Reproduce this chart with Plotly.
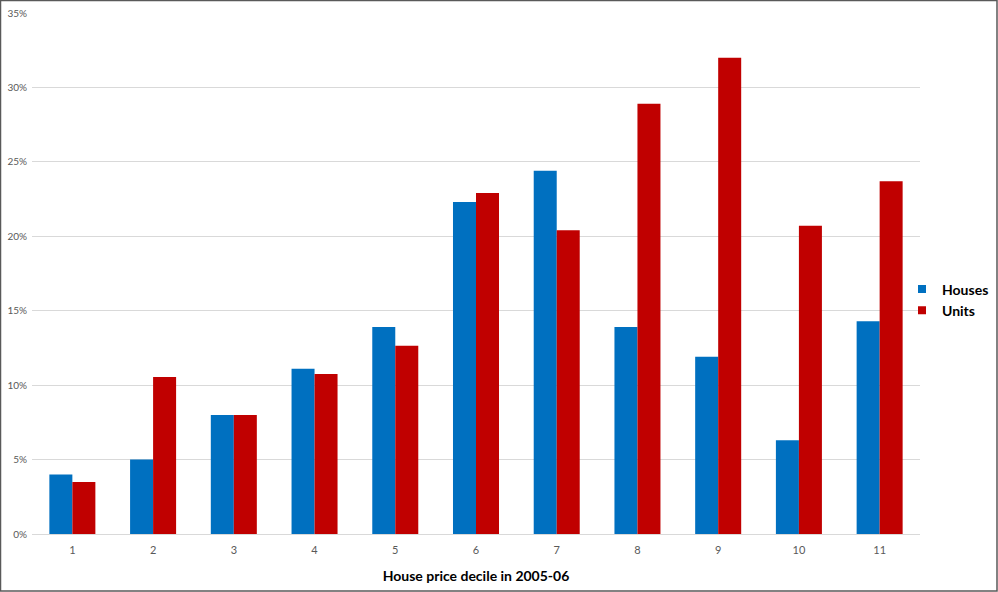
import plotly.graph_objects as go

deciles = [str(i) for i in range(1, 12)]
houses = [4.0, 5.0, 8.0, 11.1, 13.9, 22.3, 24.4, 13.9, 11.9, 6.3, 14.3]
units = [3.5, 10.55, 8.0, 10.75, 12.65, 22.9, 20.4, 28.9, 32.0, 20.7, 23.7]
series_names = ["Houses", "Units"]
series_colors = ["#0070C0", "#C00000"]

W, H = 998, 592
L, R, T, B = 32, 78, 13, 58
font = "Lato, 'Open Sans', sans-serif"

fig = go.Figure()
for name, vals, col in zip(series_names, [houses, units], series_colors):
    fig.add_trace(go.Bar(name=name, x=deciles, y=vals, showlegend=False,
                         marker=dict(color=col, line=dict(width=0))))
# legend entries with small square markers
for name, col in zip(series_names, series_colors):
    fig.add_trace(go.Scatter(name="<b>" + name + "</b>", x=[None], y=[None], mode="markers",
                             marker=dict(symbol="square", size=8, color=col)))

pw = W - L - R
ph = H - T - B
fig.add_shape(type="rect", xref="paper", yref="paper",
              x0=-(L - 0.5) / pw, x1=1 + (R - 1) / pw,
              y0=-(B - 1) / ph, y1=1 + (T - 0.5) / ph,
              line=dict(color="#595959", width=1.5), fillcolor="rgba(0,0,0,0)", layer="above")

fig.update_layout(
    width=W, height=H,
    margin=dict(l=L, r=R, t=T, b=B, autoexpand=False),
    plot_bgcolor="white", paper_bgcolor="white",
    barmode="group", bargap=0.43, bargroupgap=0,
    font=dict(family=font, color="#595959", size=11),
    xaxis=dict(
        title=dict(text="<b>House price decile in 2005-06</b>", font=dict(size=14, color="#000000"), standoff=16),
        showgrid=False, showline=False, ticks="", tickfont=dict(size=11, color="#595959"),
        ticklabelstandoff=8, automargin=False,
    ),
    yaxis=dict(
        range=[0, 35], dtick=5, ticksuffix="%", showgrid=True, gridcolor="#d9d9d9", gridwidth=1,
        zeroline=True, zerolinecolor="#d9d9d9", zerolinewidth=1, ticks="", ticklabelstandoff=4,
        tickfont=dict(size=10, color="#595959"), fixedrange=True, automargin=False,
    ),
    legend=dict(x=1 - 18 / pw, xanchor="left", y=1 - (300 - T) / ph, yanchor="middle",
                font=dict(size=14, color="#000000", family=font), itemwidth=30,
                bgcolor="rgba(0,0,0,0)"),
    showlegend=True,
)
fig.write_html("out.html")
